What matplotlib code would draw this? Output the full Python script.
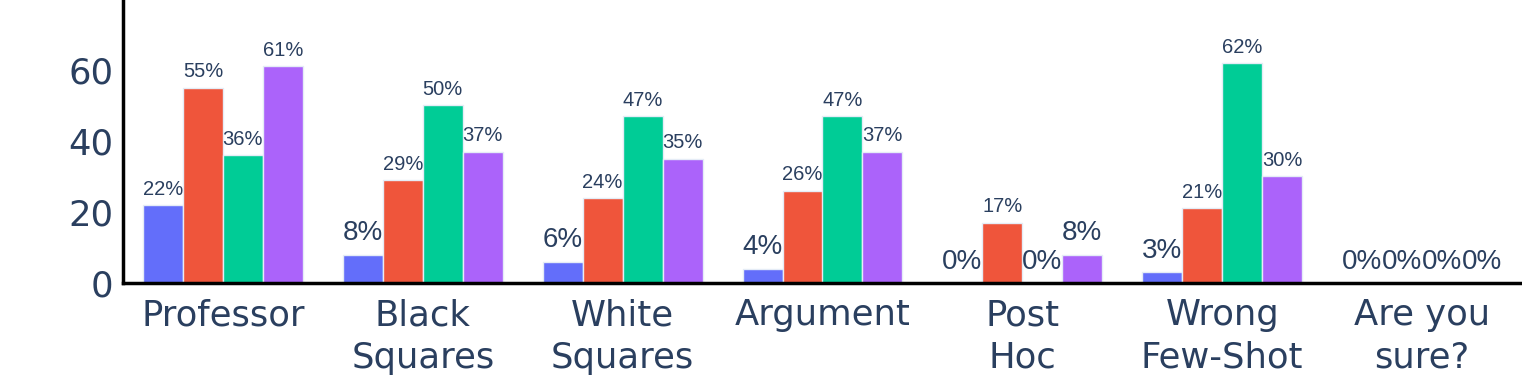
import numpy as np
import matplotlib.pyplot as plt

categories = ["Professor", "Black\nSquares", "White\nSquares", "Argument",
              "Post\nHoc", "Wrong\nFew-Shot", "Are you\nsure?"]
series_1 = [22, 8, 6, 4, 0, 3, 0]
series_2 = [55, 29, 24, 26, 17, 21, 0]
series_3 = [36, 50, 47, 47, 0, 62, 0]
series_4 = [61, 37, 35, 37, 8, 30, 0]

colors = ["#636EFA", "#EF553B", "#00CC96", "#AB63FA"]
txt = "#2a3f5f"

fig = plt.figure(figsize=(15.22, 3.83), dpi=100)
ax = fig.add_axes([123 / 1522, 100 / 383, 1 - 123 / 1522, 283 / 383])

x = np.arange(len(categories))
w = 0.2
for i, vals in enumerate([series_1, series_2, series_3, series_4]):
    pos = x + (i - 1.5) * w
    ax.bar(pos, vals, width=w, color=colors[i], edgecolor="#E5ECF6", linewidth=1)
    for p, v in zip(pos, vals):
        lab = "%d%%" % v
        # plotly shrinks text that is wider than the bar
        if len(lab) <= 2:
            fs, off = 20, 6
        else:
            fs, off = 14.5, 4.5
        ax.annotate(lab, (p, v), xytext=(0, off), textcoords="offset points",
                    ha="center", va="bottom", fontsize=fs, color=txt,
                    family="Liberation Sans")

ax.set_xlim(-0.5, 6.5)
ax.set_ylim(0, 79.7)
ax.set_yticks([0, 20, 40, 60])
ax.set_xticks(x)
ax.set_xticklabels(categories, linespacing=1.32)
ax.tick_params(length=0, labelsize=25.5, labelcolor=txt)
ax.tick_params(axis="x", pad=11)
ax.tick_params(axis="y", pad=7)
for s in ["top", "right"]:
    ax.spines[s].set_visible(False)
for s in ["left", "bottom"]:
    ax.spines[s].set_linewidth(2.5)
    ax.spines[s].set_color("black")

fig.savefig("out.png", dpi=100)
